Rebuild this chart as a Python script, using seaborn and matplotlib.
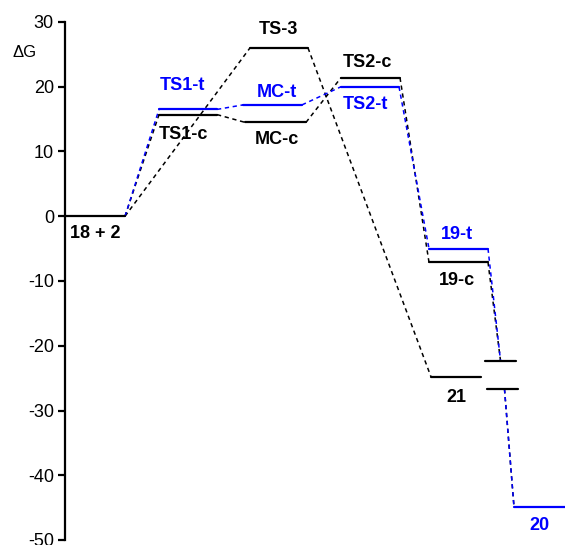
import matplotlib
matplotlib.use("Agg")
import matplotlib.pyplot as plt
import numpy as np
import pandas as pd
import seaborn as sns

# free-energy levels (kcal/mol)
states = ["18 + 2", "TS1-t", "TS1-c", "TS-3", "MC-t", "MC-c", "TS2-c", "TS2-t",
          "19-t", "19-c", "21", "int-a", "int-b", "20"]
dG = [0.0, 16.5, 15.7, 26.0, 17.2, 14.5, 21.4, 20.0,
      -5.0, -7.1, -24.8, -22.3, -26.7, -44.9]
path = ["c", "t", "c", "c", "t", "c", "c", "t", "t", "c", "c", "c", "c", "t"]
labels = ["18 + 2", "TS1-t", "TS1-c", "TS-3", "MC-t", "MC-c", "TS2-c", "TS2-t",
          "19-t", "19-c", "21", "", "", "20"]

# connections between levels (from, to, pathway colour)
links = [
    ("18 + 2", "TS1-t", "t"), ("18 + 2", "TS1-c", "c"), ("18 + 2", "TS-3", "c"),
    ("TS1-t", "MC-t", "t"), ("TS1-c", "MC-c", "c"),
    ("MC-t", "TS2-t", "t"), ("MC-c", "TS2-c", "c"),
    ("TS-3", "21", "c"),
    ("TS2-t", "19-t", "t"), ("TS2-c", "19-c", "c"),
    ("19-t", "int-a", "t"), ("19-c", "int-a", "c"),
    ("int-b", "20", "t"), ("int-b", "20", "c"),
]

# layout: horizontal extent of each level and label anchor positions
x_left = [0, 94, 94, 185, 178, 180, 276, 276, 364, 364, 366, 420, 422, 449]
x_right = [60, 152, 152, 243, 237, 241, 335, 334, 423, 423, 416, 451, 453, 500]
lab_x = [30, 117, 118, 213, 212, 212, 302, 300, 392, 392, 391, 0, 0, 474]
lab_y = [-2.6, 20.2, 12.6, 28.9, 19.1, 11.8, 23.8, 17.3, -2.8, -9.9, -28.0, 0, 0, -47.8]

colors = {"c": "black", "t": "#0000ff"}

idx = {s: i for i, s in enumerate(states)}

# level segments
rows = []
for i, s in enumerate(states):
    rows.append({"seg": s, "x": x_left[i], "dG": dG[i], "path": path[i]})
    rows.append({"seg": s, "x": x_right[i], "dG": dG[i], "path": path[i]})
levels_df = pd.DataFrame(rows)


def link_x(name, side):
    i = idx[name]
    if labels[i] == "":  # short unlabeled levels are joined near their middle
        return (x_left[i] + x_right[i]) / 2 + (2 if side == "out" else 0)
    return x_right[i] if side == "out" else x_left[i]


rows = []
for k, (a, b, p) in enumerate(links):
    rows.append({"seg": k, "x": link_x(a, "out"), "dG": dG[idx[a]], "path": p})
    rows.append({"seg": k, "x": link_x(b, "in"), "dG": dG[idx[b]], "path": p})
links_df = pd.DataFrame(rows)

sns.set_theme(style="white")
plt.rcParams["font.family"] = ["Liberation Sans", "DejaVu Sans"]
plt.rcParams["axes.unicode_minus"] = False

fig = plt.figure(figsize=(5.65, 5.45), dpi=100)
ax = fig.add_axes([65 / 565, 5 / 545, 500 / 565, 518 / 545])

for p in ["c", "t"]:
    sub = links_df[links_df["path"] == p]
    sns.lineplot(data=sub, x="x", y="dG", units="seg", estimator=None, sort=False,
                 color=colors[p], lw=1.1, ax=ax, legend=False)
for line in ax.get_lines():
    line.set_dashes((2.8, 2.4))

sns.lineplot(data=levels_df, x="x", y="dG", units="seg", estimator=None, sort=False,
             hue="path", palette=colors, lw=1.6, ax=ax, legend=False)

for i, t in enumerate(labels):
    if t:
        ax.text(lab_x[i], lab_y[i], t, color=colors[path[i]], fontsize=13,
                fontweight="bold", ha="center", va="center")

ax.set_xlim(0, 500)
ax.set_ylim(-50, 30)
ax.set_yticks(np.arange(-50, 31, 10))
ax.set_xticks([])
ax.set_xlabel("")
ax.set_ylabel("ΔG", rotation=0, fontsize=12, color="black", va="center")
ax.yaxis.set_label_coords(-0.08, 0.942)
for side in ["top", "right", "bottom"]:
    ax.spines[side].set_visible(False)
ax.spines["left"].set_linewidth(1.6)
ax.spines["left"].set_color("black")
ax.tick_params(axis="y", direction="out", length=5, width=1.6, pad=3,
               labelsize=13, colors="black", left=True)

fig.savefig("out.png", dpi=100)
